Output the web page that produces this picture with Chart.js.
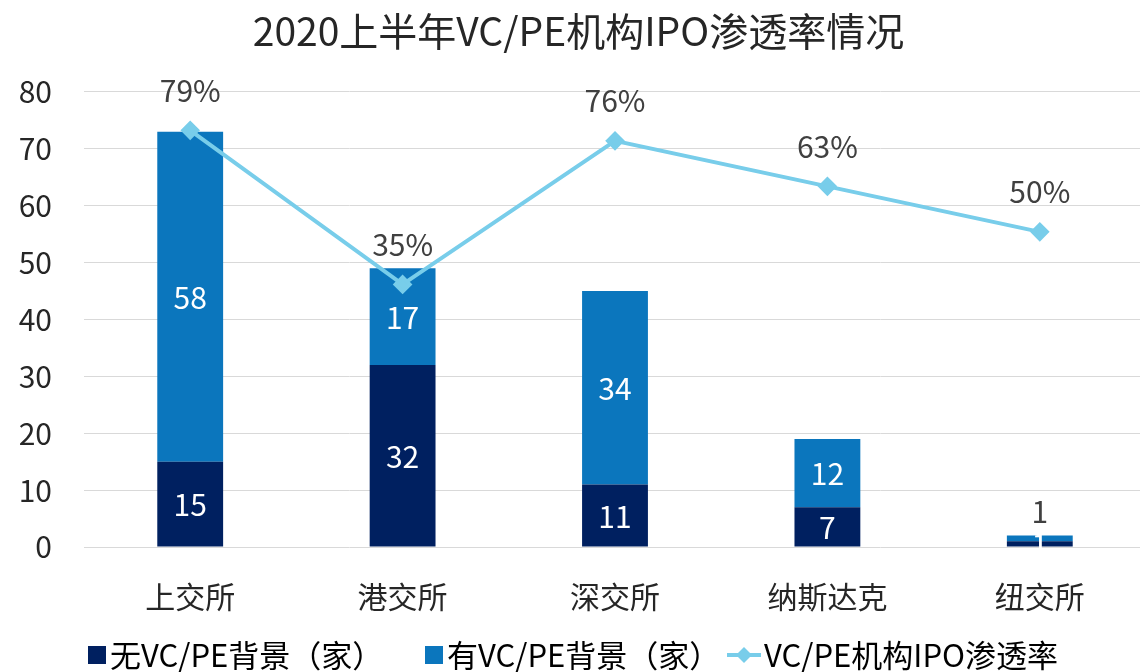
<!DOCTYPE html>
<html lang="zh">
<head>
<meta charset="UTF-8">
<title>2020上半年VC/PE机构IPO渗透率情况</title>
<script src="https://cdn.jsdelivr.net/npm/chart.js"></script>
<style>
    body { margin: 0; overflow: hidden; background: #fff; }
</style>
</head>
<body>
<canvas id="myChart" width="1157" height="672"></canvas>
<script>
    // 数据
    const categories = ['上交所', '港交所', '深交所', '纳斯达克', '纽交所'];
    const noVcpe = [15, 32, 11, 7, 1];
    const withVcpe = [58, 17, 34, 12, 1];
    const penetration = [0.79, 0.35, 0.76, 0.63, 0.50];
    const yTicks = [0, 10, 20, 30, 40, 50, 60, 70, 80];

    const FONT = "'Noto Sans CJK SC', 'Noto Sans', sans-serif";
    const colNo = '#002060';
    const colYes = '#0B76BD';
    const colLine = '#78CDEA';

    // 数据标签 + 图例
    const labelPlugin = {
        id: 'labels',
        afterDatasetsDraw(chart) {
            const ctx = chart.ctx;
            ctx.save();
            ctx.font = '30px ' + FONT;
            ctx.textAlign = 'center';
            ctx.textBaseline = 'middle';
            [0, 1].forEach(function (di) {
                const meta = chart.getDatasetMeta(di);
                meta.data.forEach(function (bar, i) {
                    const v = chart.data.datasets[di].data[i];
                    const top = Math.min(bar.y, bar.base);
                    const h = Math.abs(bar.base - bar.y);
                    if (di == 1 && h < 20) {
                        ctx.fillStyle = '#404040';
                        ctx.fillText(String(v), bar.x, top - 24);
                    } else {
                        ctx.fillStyle = '#ffffff';
                        ctx.fillText(String(v), bar.x, top + h / 2 + 1);
                    }
                });
            });
            const lm = chart.getDatasetMeta(2);
            ctx.fillStyle = '#404040';
            lm.data.forEach(function (pt, i) {
                ctx.fillText(Math.round(penetration[i] * 100) + '%', pt.x, pt.y - 40);
            });

            // 图例
            ctx.font = '31px ' + FONT;
            ctx.textAlign = 'left';
            const items = [
                { text: '无VC/PE背景（家）', type: 'box', color: colNo, x: 88 },
                { text: '有VC/PE背景（家）', type: 'box', color: colYes, x: 425 },
                { text: 'VC/PE机构IPO渗透率', type: 'line', color: colLine, x: 727 }
            ];
            const y = 655;
            items.forEach(function (it) {
                let x = it.x;
                if (it.type == 'box') {
                    ctx.fillStyle = it.color;
                    ctx.fillRect(x, y - 9, 18, 18);
                    x += 22;
                } else {
                    ctx.strokeStyle = it.color;
                    ctx.lineWidth = 4;
                    ctx.beginPath();
                    ctx.moveTo(x, y);
                    ctx.lineTo(x + 34, y);
                    ctx.stroke();
                    ctx.fillStyle = it.color;
                    ctx.beginPath();
                    ctx.moveTo(x + 17, y - 8);
                    ctx.lineTo(x + 25, y);
                    ctx.lineTo(x + 17, y + 8);
                    ctx.lineTo(x + 9, y);
                    ctx.closePath();
                    ctx.fill();
                    x += 37;
                }
                ctx.fillStyle = '#000000';
                ctx.fillText(it.text, x, y);
            });
            ctx.restore();
        }
    };

    const myChart = new Chart(document.getElementById('myChart'), {
        type: 'bar',
        data: {
            labels: categories,
            datasets: [
                {
                    label: '无VC/PE背景（家）',
                    data: noVcpe,
                    backgroundColor: colNo,
                    barPercentage: 0.62,
                    categoryPercentage: 0.5,
                    order: 1
                },
                {
                    label: '有VC/PE背景（家）',
                    data: withVcpe,
                    backgroundColor: colYes,
                    barPercentage: 0.62,
                    categoryPercentage: 0.5,
                    order: 1
                },
                {
                    type: 'line',
                    label: 'VC/PE机构IPO渗透率',
                    data: penetration,
                    yAxisID: 'y2',
                    borderColor: colLine,
                    backgroundColor: colLine,
                    borderWidth: 4,
                    pointStyle: 'rectRot',
                    pointRadius: 7,
                    tension: 0,
                    order: 0
                }
            ]
        },
        options: {
            responsive: false,
            animation: false,
            layout: { padding: { bottom: 33, right: 0 } },
            plugins: {
                legend: { display: false },
                tooltip: { enabled: false },
                title: {
                    display: true,
                    text: '2020上半年VC/PE机构IPO渗透率情况',
                    color: '#262626',
                    font: { family: FONT, size: 39, weight: 'normal' },
                    padding: { top: 8, bottom: 37 }
                }
            },
            scales: {
                x: {
                    stacked: true,
                    grid: { display: false },
                    border: { display: false },
                    ticks: { color: '#262626', padding: 24, font: { family: FONT, size: 30 } }
                },
                y: {
                    stacked: true,
                    min: 0,
                    max: 80,
                    afterFit(scale) { scale.width = 84; },
                    afterBuildTicks(scale) { scale.ticks = yTicks.map(function (v) { return { value: v }; }); },
                    grid: { color: '#d9d9d9', lineWidth: 1, drawTicks: false },
                    border: { display: false },
                    ticks: { color: '#262626', padding: 32, font: { family: FONT, size: 30 } }
                },
                y2: {
                    display: false,
                    min: -0.4,
                    max: 0.9
                }
            }
        },
        plugins: [labelPlugin]
    });
</script>
</body>
</html>
